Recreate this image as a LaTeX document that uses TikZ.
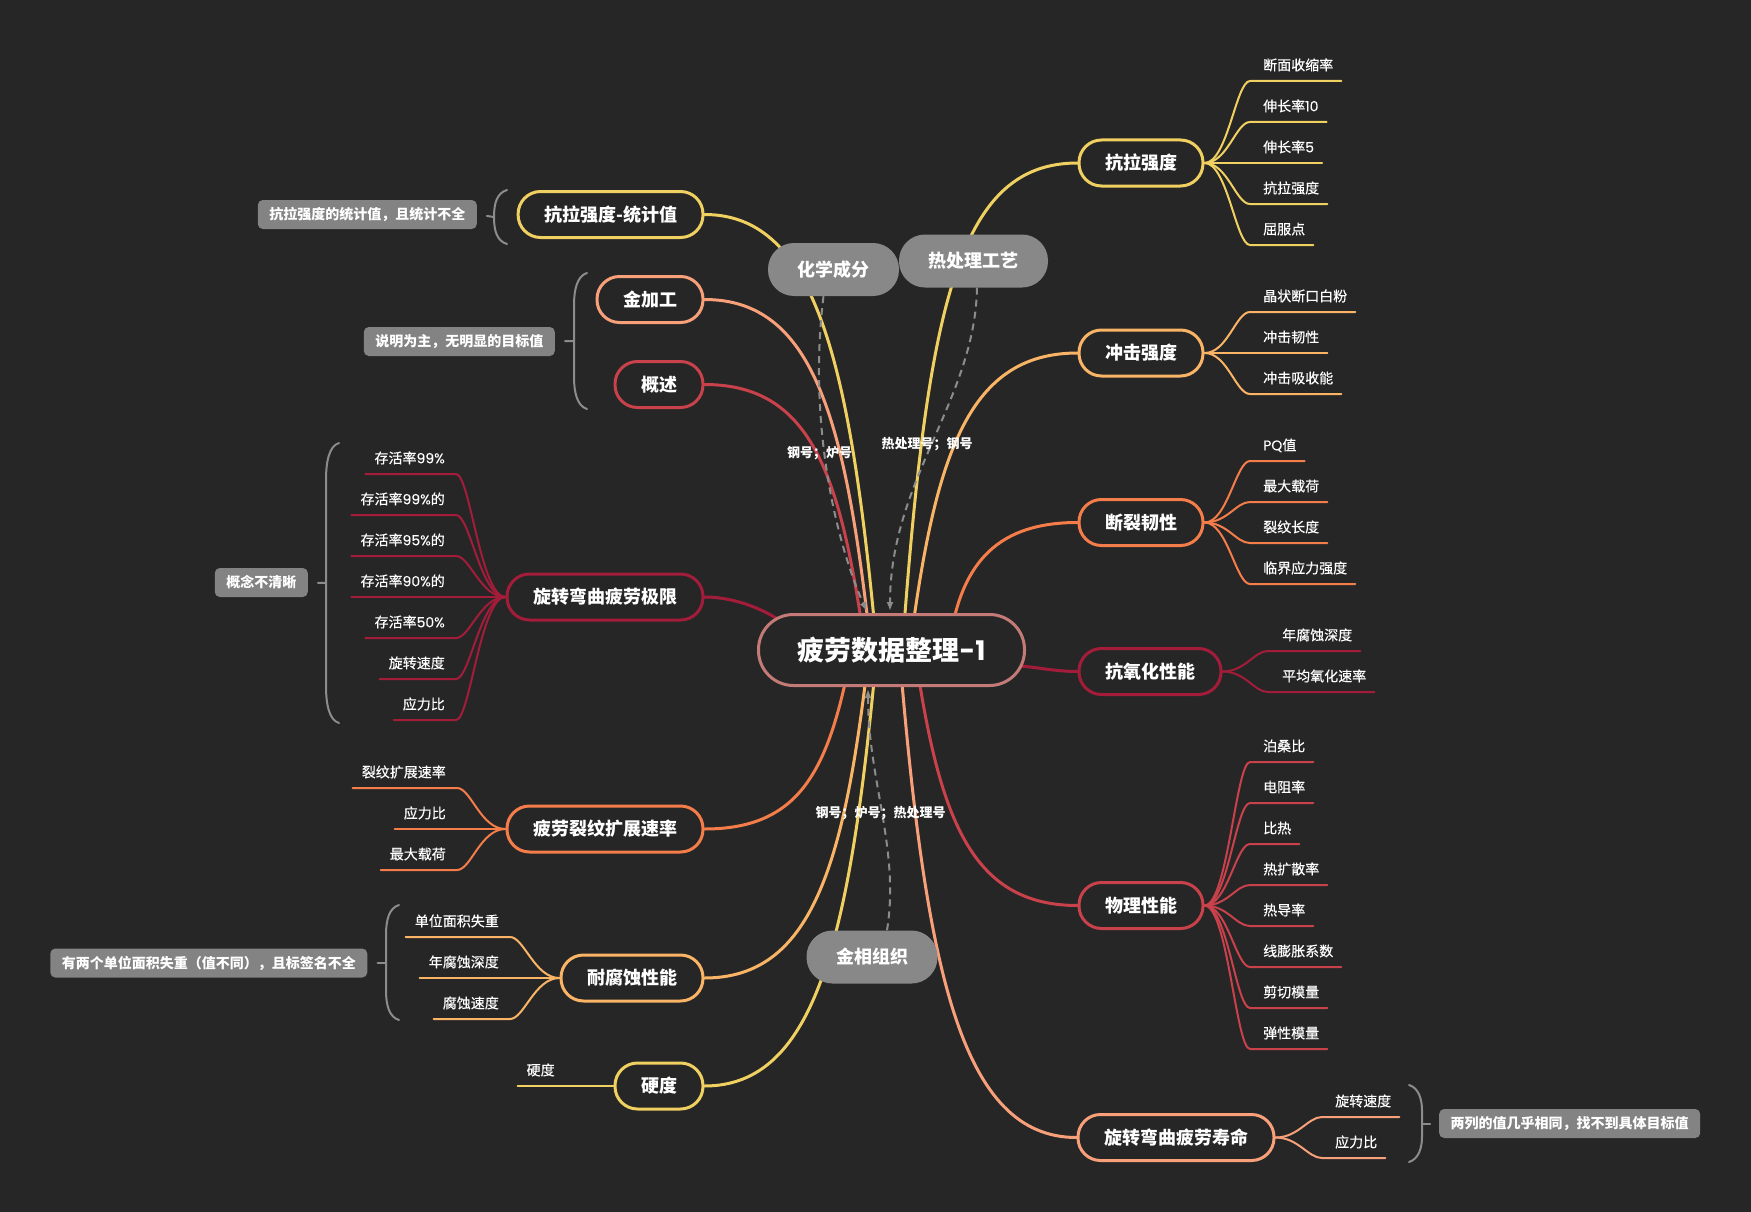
\documentclass[tikz,border=0pt]{standalone}
\usepackage{fontspec}
\setmainfont{Noto Sans CJK SC}
\newfontfamily\leaffont{Noto Sans CJK SC}[FakeBold=0.35]
\newfontfamily\latn{Poppins}
\newfontfamily\latnleaf{Poppins}[FakeBold=0.2]
\usetikzlibrary{arrows.meta}
\pgfdeclarelayer{back}
\pgfdeclarelayer{links}
\pgfsetlayers{back,links,main}

\definecolor{bgc}{HTML}{262626}
\definecolor{cYel}{HTML}{F0D060}
\definecolor{cLor}{HTML}{F9B466}
\definecolor{cOra}{HTML}{F47D4A}
\definecolor{cSal}{HTML}{F8A07A}
\definecolor{cRed}{HTML}{C8414B}
\definecolor{cCri}{HTML}{A31D3B}
\definecolor{cRoot}{HTML}{C47B78}
\definecolor{cFloat}{HTML}{888888}
\definecolor{cNote}{HTML}{838383}
\definecolor{cBrk}{HTML}{8C8C8C}

% Latin digits set in a geometric sans
\newcommand{\dg}[1]{{\latnleaf #1}}

\tikzset{
  root/.style={draw=cRoot, line width=3pt, fill=bgc, rounded corners=35pt,
    minimum width=266pt, minimum height=71pt, text=white,
    font=\fontsize{27}{30}\selectfont\bfseries},
  topic/.style={line width=3pt, fill=bgc, rounded corners=22.5pt,
    minimum height=46pt, inner xsep=26pt, text=white,
    font=\fontsize{18}{20}\selectfont\bfseries},
  floating/.style={fill=cFloat, rounded corners=26pt, minimum height=53pt,
    inner xsep=29.5pt, text=white, font=\fontsize{18}{20}\selectfont\bfseries},
  note/.style={fill=cNote, rounded corners=5pt, minimum height=29pt,
    inner xsep=11.5pt, inner ysep=0pt, text=white,
    font=\fontsize{14}{16}\selectfont\bfseries},
  leafR/.style={anchor=south west, inner xsep=0pt, inner ysep=7.5pt,
    text height=11pt, text depth=3pt, text=white,
    font=\fontsize{14}{16}\selectfont\leaffont},
  leafL/.style={leafR, anchor=south east},
  branch/.style={line width=3pt, line cap=round},
  twig/.style={line width=2pt, line cap=round},
  brk/.style={draw=cBrk, line width=2pt, line cap=round},
  rel/.style={draw=cBrk, line width=2pt, dash pattern=on 7pt off 5pt,
    -{Latex[length=9pt,width=7pt]}, shorten >=2pt},
  rlabel/.style={text=white, inner sep=0pt,
    font=\fontsize{13}{15}\selectfont\bfseries},
}

\begin{document}
\begin{tikzpicture}[x=1pt,y=-1pt]
\useasboundingbox (0,0) rectangle (1751,1212);
\begin{pgfonlayer}{back}
  \fill[bgc] (0,0) rectangle (1751,1212);
\end{pgfonlayer}

% root
\node[root] (cn) at (891.5,650) {疲劳数据整理{\latn\bfseries -1}};

% right-hand topics
\node[topic, draw=cYel, anchor=west] (kl) at (1077.5,163) {抗拉强度};
\node[topic, draw=cLor, anchor=west] (cj) at (1077.5,353) {冲击强度};
\node[topic, draw=cOra, anchor=west] (dl) at (1077.5,522.5) {断裂韧性};
\node[topic, draw=cCri, anchor=west] (ky) at (1077.5,671.5) {抗氧化性能};
\node[topic, draw=cRed, anchor=west] (wl) at (1077.5,905.5) {物理性能};
\node[topic, draw=cSal, anchor=west] (sm) at (1076.5,1137.5) {旋转弯曲疲劳寿命};

% left-hand topics
\node[topic, draw=cYel, anchor=east] (tj) at (704.5,214.5) {抗拉强度-统计值};
\node[topic, draw=cSal, anchor=east] (jj) at (704.5,299.5) {金加工};
\node[topic, draw=cRed, anchor=east] (gs) at (704.5,384.5) {概述};
\node[topic, draw=cCri, anchor=east] (xj) at (704.5,597) {旋转弯曲疲劳极限};
\node[topic, draw=cOra, anchor=east] (pl) at (704.5,829) {疲劳裂纹扩展速率};
\node[topic, draw=cLor, anchor=east] (ns) at (704.5,978) {耐腐蚀性能};
\node[topic, draw=cYel, anchor=east] (yd) at (704.5,1086) {硬度};

% floating topics
\node[floating] (hx) at (833.5,269.5) {化学成分};
\node[floating] (rc) at (973.5,261) {热处理工艺};
\node[floating] (jx) at (872,957) {金相组织};

% main branches
\begin{pgfonlayer}{links}
  \draw[branch,cYel] ([xshift=11.5pt,yshift=10pt]cn.center) .. controls (928,300) and (960,163) .. (kl.west);
  \draw[branch,cLor] ([xshift=19.5pt,yshift=10pt]cn.center) .. controls (936,453) and (969,353) .. (cj.west);
  \draw[branch,cOra] ([xshift=58.5pt,yshift=10pt]cn.center) .. controls (962,560) and (1000,522.5) .. (dl.west);
  \draw[branch,cCri] ([xshift=108.5pt,yshift=-15pt]cn.center) .. controls (1030,665) and (1050,671.5) .. (ky.west);
  \draw[branch,cRed] ([xshift=24.5pt,yshift=-10pt]cn.center) .. controls (940,820) and (972,905.5) .. (wl.west);
  \draw[branch,cSal] ([xshift=8.5pt,yshift=-10pt]cn.center) .. controls (926,970) and (961,1137.5) .. (sm.west);

  \draw[branch,cYel] ([xshift=-15.5pt,yshift=10pt]cn.center) .. controls (850,363) and (816,214.5) .. (tj.east);
  \draw[branch,cSal] ([xshift=-21.5pt,yshift=10pt]cn.center) .. controls (845,418) and (813,299.5) .. (jj.east);
  \draw[branch,cRed] ([xshift=-27.5pt,yshift=10pt]cn.center) .. controls (840,474) and (811,384.5) .. (gs.east);
  \draw[branch,cCri] ([xshift=-86.5pt,yshift=5pt]cn.center) .. controls (790,620) and (745,597) .. (xj.east);
  \draw[branch,cOra] ([xshift=-41.5pt,yshift=-10pt]cn.center) .. controls (828,770) and (800,829) .. (pl.east);
  \draw[branch,cLor] ([xshift=-23.5pt,yshift=-10pt]cn.center) .. controls (844,867) and (811,978) .. (ns.east);
  \draw[branch,cYel] ([xshift=-15.5pt,yshift=-10pt]cn.center) .. controls (850,937) and (816,1086) .. (yd.east);

  % relationships
  \draw[rel] ([xshift=-10pt]hx.south) .. controls (808,420) and (835,540) .. ([xshift=-24pt]cn.north);
  \draw[rel] ([xshift=3.5pt]rc.south) .. controls (975,400) and (890,480) .. ([xshift=-1.5pt]cn.north);
  \draw[rel] ([xshift=15pt]jx.north) .. controls (900,850) and (868,780) .. ([xshift=-23.5pt]cn.south);
\end{pgfonlayer}

\node[rlabel] (l1) at (819.5,453) {钢号；炉号};
\node[rlabel] (l2) at (927,444) {热处理号；钢号};
\node[rlabel] (l3) at (880.5,813) {钢号；炉号；热处理号};

% right-hand leaves
\foreach \w [count=\i] in {断面收缩率,伸长率\dg{10},伸长率\dg{5},抗拉强度,屈服点}{
  \coordinate (kl\i) at (1250,40+41*\i);
  \node[leafR] (klt\i) at ([xshift=13pt]kl\i) {\w};
  \begin{pgfonlayer}{links}
    \draw[twig,cYel] (kl.east) .. controls +(23,0) and +(-14,0) .. (kl\i) -- ([xshift=8pt]klt\i.south east);
  \end{pgfonlayer}
}
\foreach \w [count=\i] in {晶状断口白粉,冲击韧性,冲击吸收能}{
  \coordinate (cj\i) at (1250,271+41*\i);
  \node[leafR] (cjt\i) at ([xshift=13pt]cj\i) {\w};
  \begin{pgfonlayer}{links}
    \draw[twig,cLor] (cj.east) .. controls +(23,0) and +(-14,0) .. (cj\i) -- ([xshift=8pt]cjt\i.south east);
  \end{pgfonlayer}
}
\foreach \w [count=\i] in {\dg{PQ}值,最大载荷,裂纹长度,临界应力强度}{
  \coordinate (dl\i) at (1250,420+41*\i);
  \node[leafR] (dlt\i) at ([xshift=13pt]dl\i) {\w};
  \begin{pgfonlayer}{links}
    \draw[twig,cOra] (dl.east) .. controls +(23,0) and +(-14,0) .. (dl\i) -- ([xshift=8pt]dlt\i.south east);
  \end{pgfonlayer}
}
\foreach \w [count=\i] in {年腐蚀深度,平均氧化速率}{
  \coordinate (ky\i) at (1268,610+41*\i);
  \node[leafR] (kyt\i) at ([xshift=14pt]ky\i) {\w};
  \begin{pgfonlayer}{links}
    \draw[twig,cCri] (ky.east) .. controls +(23,0) and +(-14,0) .. (ky\i) -- ([xshift=8pt]kyt\i.south east);
  \end{pgfonlayer}
}
\foreach \w [count=\i] in {泊桑比,电阻率,比热,热扩散率,热导率,线膨胀系数,剪切模量,弹性模量}{
  \coordinate (wl\i) at (1250,721+41*\i);
  \node[leafR] (wlt\i) at ([xshift=13pt]wl\i) {\w};
  \begin{pgfonlayer}{links}
    \draw[twig,cRed] (wl.east) .. controls +(23,0) and +(-14,0) .. (wl\i) -- ([xshift=8pt]wlt\i.south east);
  \end{pgfonlayer}
}
\foreach \w [count=\i] in {旋转速度,应力比}{
  \coordinate (sm\i) at (1322,1076+41*\i);
  \node[leafR] (smt\i) at ([xshift=13pt]sm\i) {\w};
  \begin{pgfonlayer}{links}
    \draw[twig,cSal] (sm.east) .. controls +(23,0) and +(-14,0) .. (sm\i) -- ([xshift=8pt]smt\i.south east);
  \end{pgfonlayer}
}

% left-hand leaves
\foreach \w [count=\i] in {存活率\dg{99\%},存活率\dg{99\%}的,存活率\dg{95\%}的,存活率\dg{90\%}的,存活率\dg{50\%},旋转速度,应力比}{
  \coordinate (xj\i) at (456,433+41*\i);
  \node[leafL] (xjt\i) at ([xshift=-11pt]xj\i) {\w};
  \begin{pgfonlayer}{links}
    \draw[twig,cCri] (xj.west) .. controls +(-25,0) and +(14,0) .. (xj\i) -- ([xshift=-9pt]xjt\i.south west);
  \end{pgfonlayer}
}
\foreach \w [count=\i] in {裂纹扩展速率,应力比,最大载荷}{
  \coordinate (pl\i) at (457,747+41*\i);
  \node[leafL] (plt\i) at ([xshift=-11pt]pl\i) {\w};
  \begin{pgfonlayer}{links}
    \draw[twig,cOra] (pl.west) .. controls +(-25,0) and +(14,0) .. (pl\i) -- ([xshift=-9pt]plt\i.south west);
  \end{pgfonlayer}
}
\foreach \w [count=\i] in {单位面积失重,年腐蚀深度,腐蚀速度}{
  \coordinate (ns\i) at (510,896+41*\i);
  \node[leafL] (nst\i) at ([xshift=-11pt]ns\i) {\w};
  \begin{pgfonlayer}{links}
    \draw[twig,cLor] (ns.west) .. controls +(-25,0) and +(14,0) .. (ns\i) -- ([xshift=-9pt]nst\i.south west);
  \end{pgfonlayer}
}
\coordinate (yd1) at (517.5,1086);
\node[leafR] (ydt1) at ([xshift=9pt]yd1) {硬度};
\begin{pgfonlayer}{links}
  \draw[twig,cYel] (yd.west) -- (yd1);
\end{pgfonlayer}

% summary notes with their brackets
\node[note, anchor=east] (n1) at (477,214.5) {抗拉强度的统计值，且统计不全};
\node[note, anchor=east] (n2) at (555,341.5) {说明为主，无明显的目标值};
\node[note, anchor=east] (n3) at (308,582.5) {概念不清晰};
\node[note, anchor=east] (n4) at (367.5,963) {有两个单位面积失重（值不同），且标签名不全};
\node[note, anchor=west] (n5) at (1439,1123.5) {两列的值几乎相同，找不到具体目标值};

\coordinate (b1) at (494,217);
\coordinate (b2) at (574,341);
\coordinate (b3) at (326,583);
\coordinate (b4) at (386,963);
\coordinate (b5) at (1422,1123.5);
\draw[brk] (507,190) .. controls (497,193) and (494,203) .. (b1) .. controls (494,231) and (497,241) .. (507,244);
\draw[brk] (587,273) .. controls (577,276) and (574,290) .. (574,305) -- (574,377) .. controls (574,392) and (577,406) .. (587,409);
\draw[brk] (339,443) .. controls (329,446) and (326,462) .. (326,480) -- (326,686) .. controls (326,704) and (329,720) .. (339,723);
\draw[brk] (399,905) .. controls (389,908) and (386,920) .. (386,935) -- (386,990) .. controls (386,1005) and (389,1017) .. (399,1020);
\draw[brk] (1409,1085) .. controls (1419,1088) and (1422,1100) .. (1422,1110) -- (1422,1137) .. controls (1422,1147) and (1419,1159) .. (1409,1162);
\draw[brk, shorten >=10pt] (b1) -- (n1.east);
\draw[brk, shorten >=10pt] (b2) -- (n2.east);
\draw[brk, shorten >=10pt] (b3) -- (n3.east);
\draw[brk, shorten >=10pt] (b4) -- (n4.east);
\draw[brk, shorten >=9pt] (b5) -- (n5.west);
\end{tikzpicture}
\end{document}
